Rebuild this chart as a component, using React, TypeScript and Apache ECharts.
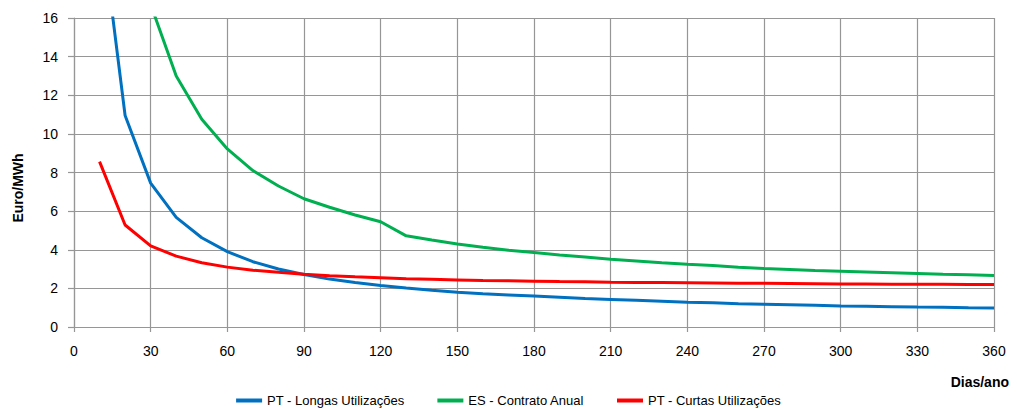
import React, { useEffect, useRef } from "react";
import * as echarts from "echarts";

const days = [10, 20, 30, 40, 50, 60, 70, 80, 90, 100, 110, 120, 130, 140, 150, 160, 170, 180, 190, 200, 210, 220, 230, 240, 250, 260, 270, 280, 290, 300, 310, 320, 330, 340, 350, 360];

const ptLongas = [21.5, 10.95, 7.45, 5.68, 4.62, 3.9, 3.38, 3.0, 2.72, 2.48, 2.3, 2.15, 2.02, 1.9, 1.8, 1.72, 1.66, 1.6, 1.54, 1.48, 1.43, 1.38, 1.33, 1.28, 1.25, 1.21, 1.18, 1.15, 1.12, 1.09, 1.07, 1.05, 1.03, 1.02, 1.0, 0.99];

const esContrato = [46.6, 24.2, 16.7, 13.0, 10.76, 9.22, 8.1, 7.3, 6.64, 6.2, 5.8, 5.45, 4.72, 4.5, 4.3, 4.13, 3.98, 3.86, 3.73, 3.62, 3.51, 3.42, 3.33, 3.25, 3.18, 3.1, 3.03, 2.98, 2.93, 2.89, 2.85, 2.81, 2.77, 2.73, 2.7, 2.67];

const ptCurtas = [8.56, 5.28, 4.2, 3.67, 3.33, 3.1, 2.94, 2.83, 2.73, 2.66, 2.6, 2.55, 2.5, 2.47, 2.44, 2.41, 2.39, 2.37, 2.35, 2.34, 2.32, 2.31, 2.3, 2.29, 2.28, 2.27, 2.26, 2.25, 2.24, 2.23, 2.23, 2.22, 2.21, 2.21, 2.2, 2.2];

const seriesNames = ["PT - Longas Utilizações", "ES - Contrato Anual", "PT - Curtas Utilizações"];
const seriesColors = ["#0070C0", "#00B050", "#FF0000"];
const xTitle = "Dias/ano";
const yTitle = "Euro/MWh";

const FONT = "'Liberation Sans', Arial, sans-serif";

export default function App() {
  const ref = useRef<HTMLDivElement>(null);
  useEffect(() => {
    document.body.style.margin = "0";
    const chart = echarts.init(ref.current!, null, { renderer: "svg" });
    const gridColor = "#969696";
    const values = [ptLongas, esContrato, ptCurtas];
    chart.setOption({
      animation: false,
      textStyle: { fontFamily: FONT },
      grid: { left: 74, right: 23, top: 18, bottom: 82, containLabel: false },
      xAxis: {
        type: "value",
        min: 0,
        max: 360,
        interval: 30,
        axisLine: { show: true, lineStyle: { color: gridColor, width: 1.2 } },
        axisTick: { show: true, length: 5, lineStyle: { color: gridColor, width: 1.2 } },
        axisLabel: { color: "#000", fontSize: 14, margin: 17, fontFamily: FONT },
        splitLine: { show: true, lineStyle: { color: gridColor, width: 1.2 } },
      },
      yAxis: {
        type: "value",
        min: 0,
        max: 16,
        interval: 2,
        axisLine: { show: true, lineStyle: { color: gridColor, width: 1.2 } },
        axisTick: { show: true, length: 6, lineStyle: { color: gridColor, width: 1.2 } },
        axisLabel: { color: "#000", fontSize: 14, margin: 16, fontFamily: FONT },
        splitLine: { show: true, lineStyle: { color: gridColor, width: 1.2 } },
      },
      legend: {
        bottom: 2,
        left: "center",
        padding: 0,
        icon: "rect",
        itemWidth: 26,
        itemHeight: 4,
        itemGap: 33,
        textStyle: { color: "#000", fontSize: 13, fontFamily: FONT },
        data: seriesNames,
      },
      graphic: [
        {
          type: "text",
          right: 8,
          top: 375,
          style: { text: xTitle, font: `bold 14px ${FONT}`, fill: "#000" },
        },
        {
          type: "text",
          x: 18,
          y: 188,
          rotation: Math.PI / 2,
          style: { text: yTitle, font: `bold 14px ${FONT}`, fill: "#000", align: "center", verticalAlign: "middle" },
        },
      ],
      series: seriesNames.map((name, i) => ({
        name,
        type: "line",
        data: days.map((d, j) => [d, values[i][j]]),
        showSymbol: false,
        symbol: "none",
        clip: true,
        lineStyle: { color: seriesColors[i], width: 3 },
        itemStyle: { color: seriesColors[i] },
      })),
    });
    return () => chart.dispose();
  }, []);
  return <div ref={ref} style={{ width: 1017, height: 409 }} />;
}
